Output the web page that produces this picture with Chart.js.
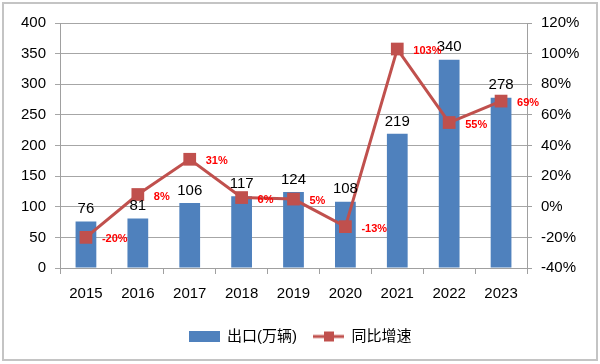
<!DOCTYPE html>
<html>
<head>
<meta charset="utf-8">
<script src="https://cdn.jsdelivr.net/npm/chart.js@4/dist/chart.umd.min.js"></script>
<style>
  html, body { margin: 0; padding: 0; background: #fff; }
  #wrap { width: 600px; height: 364px; }
</style>
</head>
<body>
<div id="wrap"><canvas id="c" width="600" height="364"></canvas></div>
<script>
const years = ['2015', '2016', '2017', '2018', '2019', '2020', '2021', '2022', '2023'];
const exports = [76, 81, 106, 117, 124, 108, 219, 340, 278];
const growth = [-20, 8, 31, 6, 5, -13, 103, 55, 69];

const BLUE = '#4f81bd';
const RED = '#c0504d';
const FONT = "'Liberation Sans', 'Noto Sans CJK SC', sans-serif";

// legend swatches
function barSwatch() {
  const c = document.createElement('canvas');
  c.width = 31; c.height = 11;
  const g = c.getContext('2d');
  g.fillStyle = BLUE;
  g.fillRect(0, 0, 31, 11);
  return c;
}
function lineSwatch() {
  const c = document.createElement('canvas');
  c.width = 31; c.height = 12;
  const g = c.getContext('2d');
  g.strokeStyle = RED; g.lineWidth = 3;
  g.beginPath(); g.moveTo(0, 6); g.lineTo(31, 6); g.stroke();
  g.fillStyle = RED;
  g.fillRect(11, 1, 10, 10);
  return c;
}
const swatches = [barSwatch(), lineSwatch()];

const frame = {
  id: 'frame',
  beforeDraw(chart) {
    const ctx = chart.ctx;
    ctx.save();
    ctx.fillStyle = '#fff';
    ctx.fillRect(0, 0, chart.width, chart.height);
    ctx.strokeStyle = '#c4c4c4';
    ctx.lineWidth = 2;
    ctx.strokeRect(3, 3, 594, 357);
    ctx.restore();
  }
};

const labels = {
  id: 'labels',
  afterDatasetsDraw(chart) {
    const ctx = chart.ctx;
    ctx.save();
    // bar values (dataset 1)
    chart.getDatasetMeta(1).data.forEach((el, i) => {
      ctx.font = '15px ' + FONT;
      ctx.fillStyle = '#000';
      ctx.textAlign = 'center';
      ctx.textBaseline = 'bottom';
      ctx.fillText(exports[i], el.x, el.y - 5);
    });
    // growth values (dataset 0)
    chart.getDatasetMeta(0).data.forEach((el, i) => {
      ctx.font = 'bold 11px ' + FONT;
      ctx.fillStyle = '#ff0000';
      ctx.textAlign = 'left';
      ctx.textBaseline = 'middle';
      ctx.fillText(growth[i] + '%', el.x + 16, el.y + 2);
    });
    ctx.restore();
  }
};

new Chart(document.getElementById('c'), {
  data: {
    labels: years,
    datasets: [
      {
        type: 'line',
        label: '同比增速',
        data: growth,
        yAxisID: 'y1',
        borderColor: RED,
        backgroundColor: RED,
        borderWidth: 3,
        pointStyle: 'rect',
        pointRadius: 9,
        pointBorderWidth: 0,
        pointBackgroundColor: RED,
        tension: 0,
        order: 0
      },
      {
        type: 'bar',
        label: '出口(万辆)',
        data: exports,
        yAxisID: 'y',
        backgroundColor: BLUE,
        barPercentage: 0.8,
        categoryPercentage: 0.5,
        order: 1
      }
    ]
  },
  options: {
    responsive: false,
    animation: false,
    layout: { padding: { top: 23, left: 0, right: 0, bottom: 10 } },
    plugins: {
      tooltip: { enabled: false },
      legend: {
        position: 'bottom',
        labels: {
          font: { size: 15, family: FONT },
          color: '#000',
          usePointStyle: true,
          pointStyleWidth: 31,
          boxHeight: 12,
          padding: 16,
          generateLabels(chart) {
            return [
              { text: '出口(万辆)', pointStyle: swatches[0], datasetIndex: 1, fontColor: '#000', lineWidth: 0, strokeStyle: BLUE, fillStyle: BLUE },
              { text: '同比增速', pointStyle: swatches[1], datasetIndex: 0, fontColor: '#000', lineWidth: 0, strokeStyle: RED, fillStyle: RED }
            ];
          }
        }
      }
    },
    scales: {
      x: {
        afterFit(s) { s.height = 45; },
        grid: { drawOnChartArea: false, drawTicks: true, tickLength: 6, color: '#a0a0a0', offset: true },
        border: { color: '#a0a0a0' },
        ticks: { font: { size: 15, family: FONT }, color: '#000', padding: 11 }
      },
      y: {
        position: 'left',
        min: 0, max: 400,
        afterFit(s) { s.width = 60; },
        grid: { color: '#a6a6a6', tickLength: 5 },
        border: { color: '#a0a0a0' },
        ticks: { stepSize: 50, font: { size: 15, family: FONT }, color: '#000', padding: 9 }
      },
      y1: {
        position: 'right',
        min: -40, max: 120,
        afterFit(s) { s.width = 73; },
        grid: { drawOnChartArea: false, color: '#a0a0a0', tickLength: 5 },
        border: { color: '#a0a0a0' },
        ticks: { stepSize: 20, font: { size: 15, family: FONT }, color: '#000', padding: 9, callback: v => v + '%' }
      }
    }
  },
  plugins: [frame, labels]
});
</script>
</body>
</html>
